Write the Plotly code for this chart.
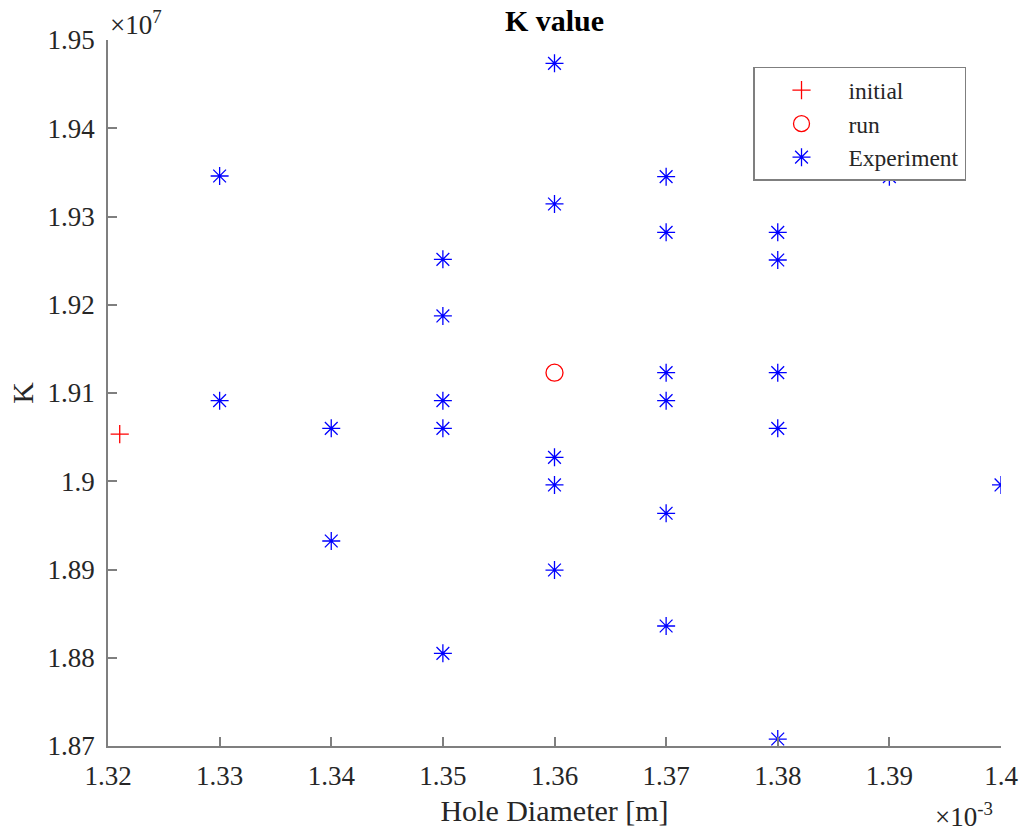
import plotly.graph_objects as go

# Hole diameter [m] and flow coefficient K for each data set
initial_d = [1.32105e-3]
initial_k = [1.90535e7]

run_d = [1.36e-3]
run_k = [1.9123e7]

exp_d = [
    1.33e-3, 1.33e-3,
    1.34e-3, 1.34e-3,
    1.35e-3, 1.35e-3, 1.35e-3, 1.35e-3, 1.35e-3,
    1.36e-3, 1.36e-3, 1.36e-3, 1.36e-3, 1.36e-3,
    1.37e-3, 1.37e-3, 1.37e-3, 1.37e-3, 1.37e-3, 1.37e-3,
    1.38e-3, 1.38e-3, 1.38e-3, 1.38e-3, 1.38e-3,
    1.39e-3,
    1.40e-3,
]
exp_k = [
    1.93459e7, 1.90913e7,
    1.90600e7, 1.89323e7,
    1.92515e7, 1.91873e7, 1.90913e7, 1.90600e7, 1.88050e7,
    1.94736e7, 1.93142e7, 1.90271e7, 1.89958e7, 1.88994e7,
    1.93451e7, 1.92821e7, 1.91230e7, 1.90913e7, 1.89637e7, 1.88360e7,
    1.92821e7, 1.92507e7, 1.91230e7, 1.90600e7, 1.87079e7,
    1.93451e7,
    1.89958e7,
]

# Axis ticks (values in SI units, labels scaled by the exponent annotations)
x_tickvals = [1.32e-3, 1.33e-3, 1.34e-3, 1.35e-3, 1.36e-3, 1.37e-3, 1.38e-3, 1.39e-3, 1.40e-3]
x_ticktext = ["1.32", "1.33", "1.34", "1.35", "1.36", "1.37", "1.38", "1.39", "1.4"]
y_tickvals = [1.87e7, 1.88e7, 1.89e7, 1.90e7, 1.91e7, 1.92e7, 1.93e7, 1.94e7, 1.95e7]
y_ticktext = ["1.87", "1.88", "1.89", "1.9", "1.91", "1.92", "1.93", "1.94", "1.95"]

FONT = "Liberation Serif, Times New Roman, serif"
TEXT = "#262626"
AXIS = "#7f7f7f"

fig = go.Figure()
fig.add_trace(go.Scatter(
    x=initial_d, y=initial_k, mode="markers", name="initial",
    marker=dict(symbol="cross-thin-open", size=13, color="#ff0000",
                line=dict(color="#ff0000", width=1.3)),
))
fig.add_trace(go.Scatter(
    x=run_d, y=run_k, mode="markers", name="run",
    marker=dict(symbol="circle-open", size=17, color="#ff0000",
                line=dict(color="#ff0000", width=1.3)),
))
fig.add_trace(go.Scatter(
    x=exp_d, y=exp_k, mode="markers", name="Experiment",
    marker=dict(symbol="asterisk-open", size=15, color="#0000ff",
                line=dict(color="#0000ff", width=1.3)),
))

axis_common = dict(
    showgrid=False, zeroline=False, showline=True, mirror=False,
    linecolor=AXIS, linewidth=1.5, automargin=False,
    ticks="inside", ticklen=9, tickwidth=1.5, tickcolor=AXIS,
    tickmode="array",
    tickfont=dict(family=FONT, size=27, color=TEXT),
)

fig.update_layout(
    width=1024, height=831,
    margin=dict(l=108, r=23, t=40, b=85, autoexpand=False),
    paper_bgcolor="white", plot_bgcolor="white",
    font=dict(family=FONT, color=TEXT),
    title=dict(text="<b>K value</b>", x=0.5415, xanchor="center",
               y=1 - 20 / 831, yanchor="middle", yref="container",
               automargin=False,
               font=dict(family=FONT, size=30, color="#000000")),
    xaxis=dict(axis_common, range=[1.32e-3, 1.40e-3],
               tickvals=x_tickvals, ticktext=x_ticktext,
               ticklabelstandoff=5,
               title=dict(text="Hole Diameter [m]", standoff=10,
                          font=dict(family=FONT, size=30, color=TEXT))),
    yaxis=dict(axis_common, range=[1.87e7, 1.95e7],
               tickvals=y_tickvals, ticktext=y_ticktext,
               ticklabelstandoff=6,
               title=dict(text="K", standoff=5,
                          font=dict(family=FONT, size=30, color=TEXT))),
    legend=dict(x=0.7223, y=0.962, xanchor="left", yanchor="top",
                bgcolor="white", bordercolor=AXIS, borderwidth=1.5,
                font=dict(family=FONT, size=23.5, color=TEXT),
                itemwidth=84, tracegroupgap=0),
    showlegend=True,
    annotations=[
        dict(text="×10<sup>7</sup>", xref="paper", yref="paper",
             x=0, y=1, xanchor="left", yanchor="bottom", xshift=0, yshift=-2,
             showarrow=False, font=dict(family=FONT, size=27, color=TEXT)),
        dict(text="×10<sup>-3</sup>", xref="paper", yref="paper",
             x=1, y=0, xanchor="right", yanchor="top", yshift=-50, xshift=-6,
             showarrow=False, font=dict(family=FONT, size=27, color=TEXT)),
    ],
)

fig.write_html("out.html")
